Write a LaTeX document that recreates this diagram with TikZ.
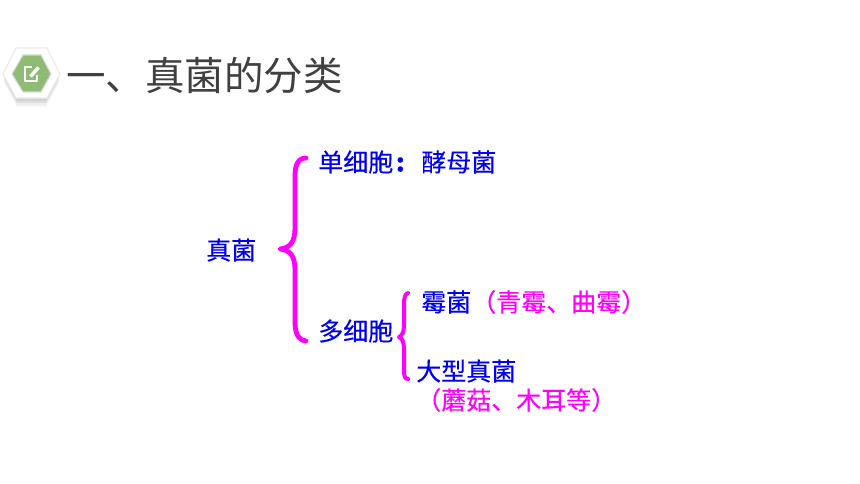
\documentclass[tikz,border=0pt]{standalone}
\usepackage{fontspec}
\newfontfamily\cjk{Noto Sans CJK SC}
\newfontfamily\cjkheavy[FakeBold=0.25]{Noto Sans CJK SC}
\definecolor{titlegray}{HTML}{404040}
\definecolor{bodyblue}{HTML}{0000F0}
\definecolor{accent}{HTML}{FF00FF}
\definecolor{badgegreen}{HTML}{8FBC74}
\tikzset{
  px/.style={x=0.75pt,y=-0.75pt},
  titletext/.style={anchor=west,inner sep=0pt,text=titlegray,font=\cjk\fontsize{29.6}{32}\selectfont},
  bluetext/.style={anchor=west,inner sep=0pt,text=bodyblue,font=\cjkheavy\fontsize{18.75}{20}\selectfont},
  pinktext/.style={anchor=west,inner sep=0pt,text=accent,font=\cjkheavy\fontsize{18.75}{20}\selectfont},
  bracket/.style={draw=accent,line cap=round,line join=round},
}
\begin{document}
\begin{tikzpicture}[px]
\useasboundingbox (0,0) rectangle (860,484);
\fill[white] (0,0) rectangle (860,484);
% badge
\foreach \o/\d in {0.03/9,0.04/7,0.05/5,0.06/3}{
  \fill[black,opacity=\o] (4,74+\d) -- (17,49+\d) -- (46,49+\d) -- (59,74+\d) -- (46,98+\d) -- (17,98+\d) -- cycle;
}
\fill[white,draw=black!8,line width=0.8pt] (3,74) -- (16,48) -- (47,48) -- (60,74) -- (47,98) -- (16,98) -- cycle;
\fill[badgegreen,draw=black!15,line width=0.8pt] (12,74) -- (23,55) -- (41,55) -- (51,74) -- (41,92) -- (23,92) -- cycle;
\draw[white,line width=1.5pt,line join=round] (32,67.5) -- (24.5,67.5) -- (24.5,81.5) -- (37,81.5) -- (37,75);
\draw[white,line width=2.6pt] (30.5,76.5) -- (38.5,67.5);
% title
\node[titletext] (title) at (66,75) {一、真菌的分类};
% labels
\node[bluetext] (root) at (206,250) {真菌};
\node[bluetext] (single) at (318,162) {单细胞\kern2pt\textbf{:}};
\node[bluetext] (yeast) at (421,162) {酵母菌};
\node[bluetext] (multi) at (318,331) {多细胞};
\node[bluetext] (mold) at (421,302) {霉菌};
\node[pinktext] (moldx) at (471,302) {（青霉、曲霉）};
\node[bluetext] (large) at (416,371) {大型真菌};
\node[pinktext] (largex) at (416,400) {（蘑菇、木耳等）};
% brackets
\draw[bracket,line width=3.6pt] (306,158) .. controls (298,158) and (295,165) .. (295,176) -- (295,228)
  .. controls (295,242) and (290,248) .. (280,249)
  .. controls (290,250) and (295,256) .. (295,270) -- (295,322)
  .. controls (295,333) and (298,340) .. (306,341);
\draw[bracket,line width=3pt] (408,293) .. controls (405,294) and (404,298) .. (404,304) -- (404,325)
  .. controls (404,332) and (402,336) .. (399,337)
  .. controls (402,338) and (404,342) .. (404,349) -- (404,371)
  .. controls (404,376) and (405,379) .. (408,379);
\end{tikzpicture}
\end{document}
